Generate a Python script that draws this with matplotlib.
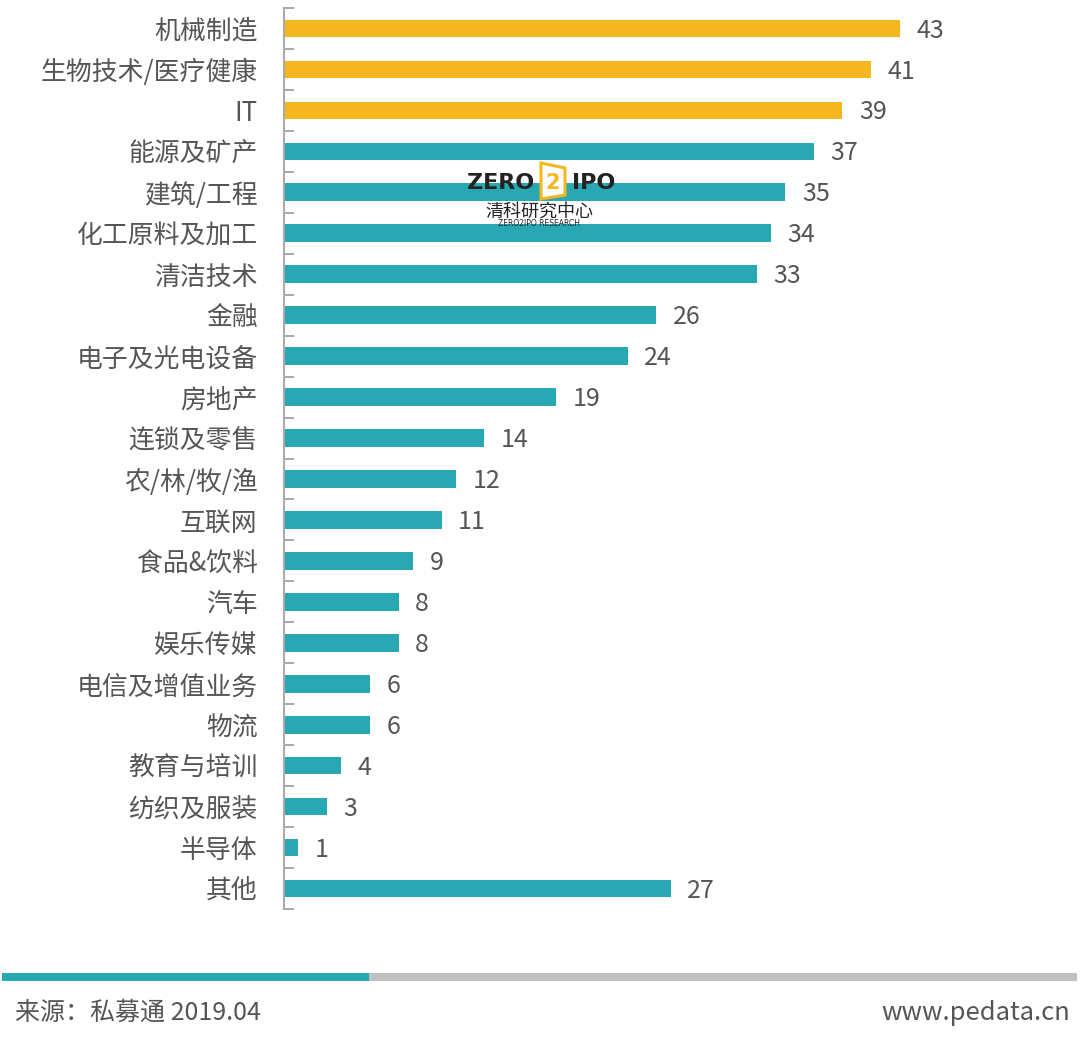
import matplotlib

matplotlib.use("Agg")
import matplotlib.pyplot as plt
from matplotlib.patches import Rectangle, Polygon

plt.rcParams["font.family"] = ["Noto Sans CJK SC", "DejaVu Sans"]

categories = ["机械制造", "生物技术/医疗健康", "IT", "能源及矿产", "建筑/工程", "化工原料及加工",
              "清洁技术", "金融", "电子及光电设备", "房地产", "连锁及零售", "农/林/牧/渔",
              "互联网", "食品&饮料", "汽车", "娱乐传媒", "电信及增值业务", "物流",
              "教育与培训", "纺织及服装", "半导体", "其他"]
values = [43, 41, 39, 37, 35, 34, 33, 26, 24, 19, 14, 12, 11, 9, 8, 8, 6, 6, 4, 3, 1, 27]
highlight = 3  # first three bars in gold

GOLD = "#F4B71F"
TEAL = "#29A7B3"
TEXT = "#555555"

fig = plt.figure(figsize=(10.8, 10.4), dpi=100)
ax = fig.add_axes([284 / 1080, 1 - 909 / 1040, 716 / 1080, 901 / 1040])

colors = [GOLD if i < highlight else TEAL for i in range(len(values))]
ypos = list(range(len(values)))
ax.barh(ypos, values, height=0.43, color=colors)
for y, v in zip(ypos, values):
    ax.annotate(str(v), (v, y), xytext=(12, -1.5), textcoords="offset points",
                va="center", ha="left", fontsize=18, color=TEXT)

ax.set_xlim(0, 50)
ax.set_ylim(len(values) - 0.5, -0.5)
ax.set_yticks(ypos)
ax.set_yticklabels(categories, fontsize=18.6, color=TEXT)
ax.set_yticks([i - 0.5 for i in range(len(values) + 1)], minor=True)
ax.tick_params(axis="y", which="major", length=0, pad=19)
ax.tick_params(axis="y", which="minor", direction="in", length=7, width=1.2, color="#999999")
ax.set_xticks([])
for s in ["top", "right", "bottom"]:
    ax.spines[s].set_visible(False)
ax.spines["left"].set_color("#aaaaaa")
ax.spines["left"].set_linewidth(1.5)

# watermark logo
fig.text(467 / 1080, 1 - 183 / 1040, "ZERO", fontsize=16, fontweight="bold", color="#222222",
         family="DejaVu Sans", va="center", ha="left")
fig.patches.append(Polygon([[541 / 1080, 1 - 163 / 1040], [565 / 1080, 1 - 168 / 1040],
                            [565 / 1080, 1 - 195 / 1040], [541 / 1080, 1 - 199 / 1040]],
                           closed=True, transform=fig.transFigure, facecolor="white",
                           edgecolor=GOLD, linewidth=2.2))
fig.text(553 / 1080, 1 - 183 / 1040, "2", fontsize=15, fontweight="bold", color=GOLD,
         family="DejaVu Sans", va="center", ha="center")
fig.text(572 / 1080, 1 - 183 / 1040, "IPO", fontsize=16, fontweight="bold", color="#222222",
         family="DejaVu Sans", va="center", ha="left")
fig.text(539 / 1080, 1 - 212 / 1040, "清科研究中心", fontsize=13, color="#222222",
         va="center", ha="center")
fig.text(539 / 1080, 1 - 224 / 1040, "ZERO2IPO RESEARCH", fontsize=5.5, color="#222222",
         family="DejaVu Sans", va="center", ha="center")

# footer bar
fig.patches.append(Rectangle((2 / 1080, 1 - 981 / 1040), 367 / 1080, 8 / 1040,
                             transform=fig.transFigure, facecolor=TEAL, edgecolor="none"))
fig.patches.append(Rectangle((369 / 1080, 1 - 981 / 1040), 708 / 1080, 8 / 1040,
                             transform=fig.transFigure, facecolor="#c0c0c0", edgecolor="none"))
fig.text(15 / 1080, 1 - 1013 / 1040, "来源：私募通 2019.04", fontsize=18, color=TEXT,
         va="center", ha="left")
fig.text(1070 / 1080, 1 - 1013 / 1040, "www.pedata.cn", fontsize=18.4, color=TEXT,
         va="center", ha="right")

fig.savefig("out.png", dpi=100)
